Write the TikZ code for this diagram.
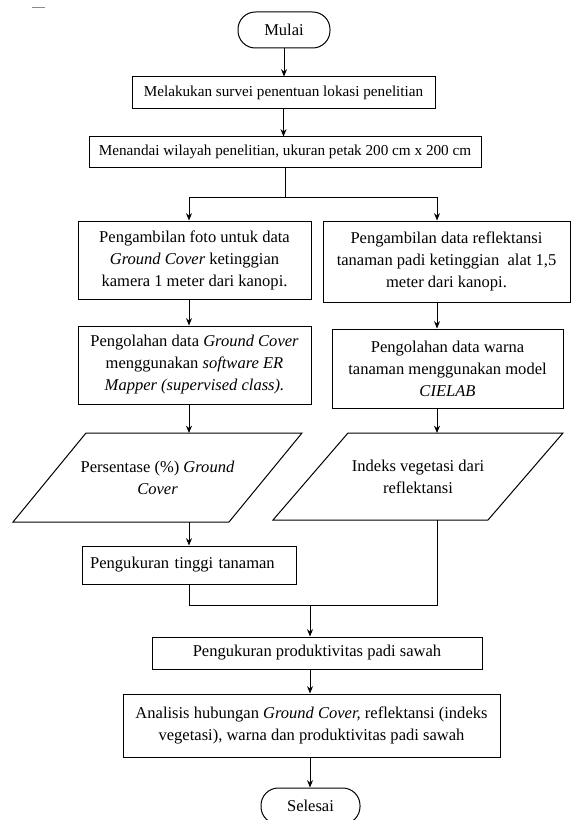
\documentclass[tikz,border=0pt]{standalone}
\usepackage{fontspec}
\setmainfont{Liberation Serif}
\usepackage{xcolor}
\definecolor{dashgray}{HTML}{8A8A8A}
\usetikzlibrary{arrows.meta,positioning,shapes.geometric,calc}

\begin{document}
\begin{tikzpicture}[x=0.75pt,y=-0.75pt,line width=0.75pt,>={Stealth[length=5.5pt,width=4.5pt]},
  every node/.style={font=\fontsize{12.4}{16.5}\selectfont},
  smallfont/.style={font=\fontsize{11.4}{15}\selectfont},
  procbox/.style={draw,align=center,inner xsep=2pt},
  termbox/.style={draw,rounded corners=13pt,minimum height=27pt},
  iobox/.style={align=center,outer sep=0pt,minimum width=216.75pt,minimum height=66.75pt}]
\useasboundingbox (0,0) rectangle (571,820);
\draw[dashgray] (32,8) -- (45,8);

\node[termbox,minimum width=69pt] (mulai) at (284,30) {Mulai};
\node[procbox,smallfont,minimum width=227.25pt,minimum height=24pt] (survei) at (283.5,93) {Melakukan survei penentuan lokasi penelitian};
\node[procbox,smallfont,minimum width=294pt,minimum height=22.5pt] (petak) at (285,152) {Menandai wilayah penelitian, ukuran petak 200 cm x 200 cm};
\node[procbox,minimum width=174.75pt,minimum height=58.5pt] (foto) at (194.5,260) {Pengambilan foto untuk data\\\textit{Ground Cover} ketinggian\\kamera 1 meter dari kanopi.};
\node[procbox,minimum width=185.25pt,minimum height=60.75pt] (reflek) at (446.5,261.5) {Pengambilan data reflektansi\\tanaman padi ketinggian\ \ alat 1,5\\meter dari kanopi.};
\node[procbox,minimum width=174.75pt,minimum height=58.5pt] (olahgc) at (194.5,365) {Pengolahan data \textit{Ground Cover}\\menggunakan \textit{software ER}\\\textit{Mapper (supervised class).}};
\node[procbox,minimum width=173.25pt,minimum height=59.25pt] (warna) at (447.5,368.5) {Pengolahan data warna\\tanaman menggunakan model\\\textit{CIELAB}};
\node[iobox] (persen) at (157.5,477.5) {Persentase (\%) \textit{Ground}\\\textit{Cover}};
\node[iobox,minimum width=217.5pt,minimum height=65.25pt] (indeks) at (418,476.5) {Indeks vegetasi dari\\reflektansi};
\draw ($(persen.north west)+(73,0)$) -- (persen.north east) -- ($(persen.south east)+(-73,0)$) -- (persen.south west) -- cycle;
\draw ($(indeks.north west)+(75,0)$) -- (indeks.north east) -- ($(indeks.south east)+(-75,0)$) -- (indeks.south west) -- cycle;
\node[procbox,align=left,inner xsep=6pt,text width=149pt,minimum height=28.5pt] (tinggi) at (189.5,565) {Pengukuran tinggi tanaman};
\node[procbox,minimum width=247.5pt,minimum height=24pt] (produk) at (317,653) {Pengukuran produktivitas padi sawah};
\node[procbox,minimum width=282.75pt,minimum height=47.25pt] (analisis) at (311.5,725.5) {Analisis hubungan \textit{Ground Cover,} reflektansi (indeks\\vegetasi), warna dan produktivitas padi sawah};
\node[termbox,minimum width=74.25pt] (selesai) at (310.5,806) {Selesai};

\coordinate (kiri) at (189,197);
\coordinate (kanan) at (437,197);
\coordinate (gabung) at (310,605);

\draw[->] (mulai.south) -- (mulai.south |- survei.north);
\draw[->] (survei.south) -- (survei.south |- petak.north);
\draw (petak.south) -- (petak.south |- kiri);
\draw (kiri) -- (kanan);
\draw[->] (kiri) -- (kiri |- foto.north);
\draw[->] (kanan) -- (kanan |- reflek.north);
\draw[->] (kiri |- foto.south) -- (kiri |- olahgc.north);
\draw[->] (kanan |- reflek.south) -- (kanan |- warna.north);
\draw[->] (kiri |- olahgc.south) -- (kiri |- persen.north);
\draw[->] (kanan |- warna.south) -- (kanan |- indeks.north);
\draw[->] (kiri |- persen.south) -- (kiri |- tinggi.north);
\draw (kiri |- tinggi.south) -- (kiri |- gabung) -- (kanan |- gabung) -- (kanan |- indeks.south);
\draw[->] (gabung) -- (gabung |- produk.north);
\draw[->] (gabung |- produk.south) -- (gabung |- analisis.north);
\draw[->] (gabung |- analisis.south) -- (gabung |- selesai.north);
\end{tikzpicture}
\end{document}
